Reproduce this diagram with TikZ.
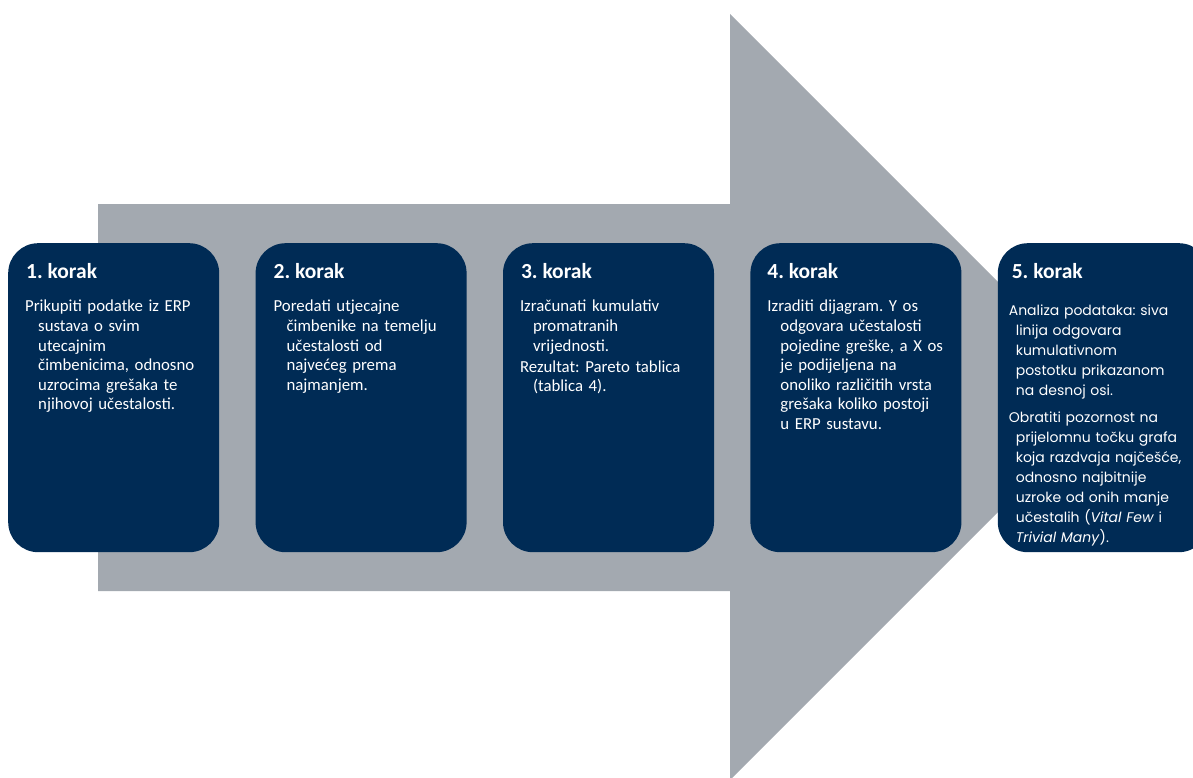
\documentclass[tikz,border=0pt]{standalone}
\usepackage{fontspec}
\setmainfont{Carlito}
\newfontfamily\gothic{Poppins}
\usetikzlibrary{positioning}
\definecolor{navy}{HTML}{002B55}
\definecolor{arrowgrey}{HTML}{A3A9B0}
\newcommand{\hang}{\hangindent=13pt\hangafter=1\relax}
\newcommand{\hangsmall}{\hangindent=7pt\hangafter=1\relax}
\frenchspacing

\begin{document}
\begin{tikzpicture}[x=1pt, y=-1pt]
		\tikzstyle{korak}=[fill=navy, rounded corners=30pt, minimum width=211pt, minimum height=309pt, inner sep=0pt]
		\tikzstyle{title}=[text=white, font=\bfseries\fontsize{21.5}{24}\selectfont, inner sep=0pt, anchor=base west]
		\tikzstyle{body}=[text=white, font=\fontsize{16.8}{19.6}\selectfont, inner sep=0pt, anchor=north west, text width=195pt, align=left]

		\useasboundingbox (0,0) rectangle (1193,778);
		\clip (0,0) rectangle (1193,778);

    % Arrow
		\fill[arrowgrey] (98,204) -- (730,204) -- (730,14) -- (1113,397) -- (730,780) -- (730,591) -- (98,591) -- cycle;

    % Steps
		\node[korak, anchor=north west](k1) at (8,243){};
		\node[korak, right=36pt of k1](k2){};
		\node[korak, right=36pt of k2](k3){};
		\node[korak, right=36pt of k3](k4){};
		\node[korak, right=36pt of k4](k5){};

    % Titles
		\node[title](t1) at ([xshift=18pt,yshift=-35pt]k1.north west){1. korak};
		\node[title](t2) at ([xshift=18pt,yshift=-35pt]k2.north west){2. korak};
		\node[title](t3) at ([xshift=18pt,yshift=-35pt]k3.north west){3. korak};
		\node[title](t4) at ([xshift=17pt,yshift=-35pt]k4.north west){4. korak};
		\node[title](t5) at ([xshift=14pt,yshift=-35pt]k5.north west){5. korak};

    % Texts
		\node[body](b1) at ([xshift=17pt,yshift=-57pt]k1.north west){\hang Prikupiti podatke iz ERP\newline sustava o svim\newline utecajnim\newline čimbenicima, odnosno\newline uzrocima grešaka te\newline njihovoj učestalosti.\par};
		\node[body](b2) at ([xshift=18pt,yshift=-57pt]k2.north west){\hang Poredati utjecajne\newline čimbenike na temelju\newline učestalosti od\newline najvećeg prema\newline najmanjem.\par};
		\node[body](b3) at ([xshift=17pt,yshift=-57pt]k3.north west){\hang Izračunati kumulativ\newline promatranih\newline vrijednosti.\par\vspace{1.5pt}
			\hang Rezultat: Pareto tablica\newline (tablica 4).\par};
		\node[body](b4) at ([xshift=17pt,yshift=-57pt]k4.north west){\hang Izraditi dijagram. Y os\newline odgovara učestalosti\newline pojedine greške, a X os\newline je podijeljena na\newline onoliko različitih vrsta\newline grešaka koliko postoji\newline u ERP sustavu.\par};
		\node[body, font=\gothic\fontsize{14}{20}\selectfont, text width=185pt](b5) at ([xshift=11pt,yshift=-62pt]k5.north west){\hangsmall Analiza podataka: siva\newline linija odgovara\newline kumulativnom\newline postotku prikazanom\newline na desnoj osi.\par\vspace{7pt}
			\hangsmall Obratiti pozornost na\newline prijelomnu točku grafa\newline koja razdvaja najčešće,\newline odnosno najbitnije\newline uzroke od onih manje\newline učestalih (\textit{Vital Few} i\newline \textit{Trivial Many}).\par};

  \end{tikzpicture}
\end{document}
